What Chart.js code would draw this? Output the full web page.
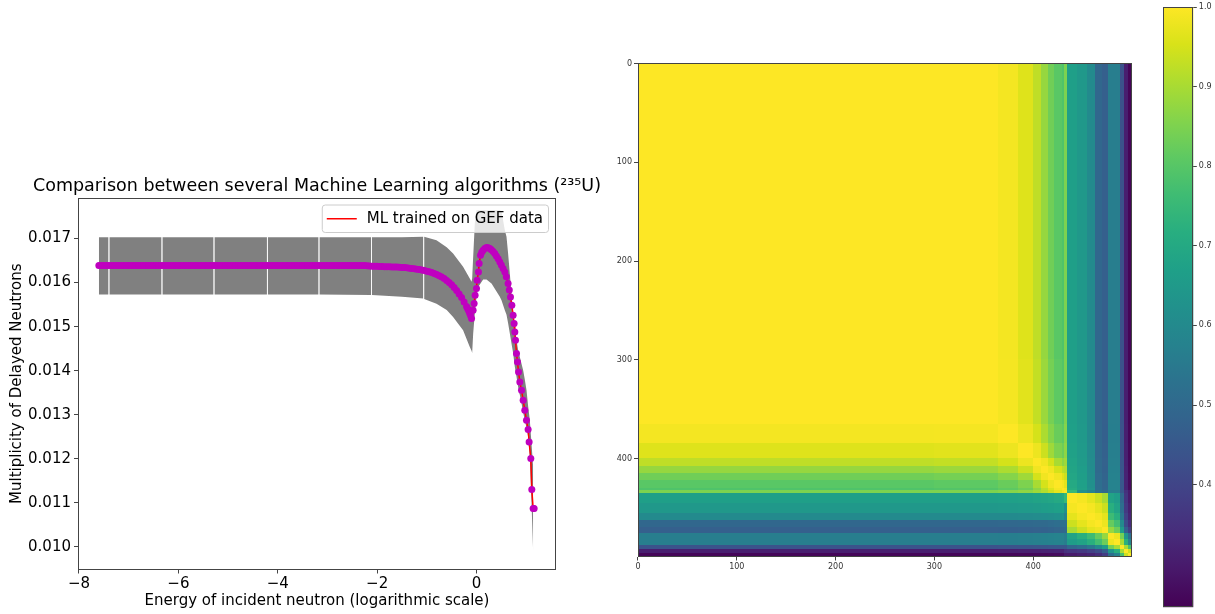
<!DOCTYPE html>
<html>
<head>
<meta charset="utf-8">
<script src="https://cdn.jsdelivr.net/npm/chart.js@4.4.1/dist/chart.umd.min.js"></script>
<style>
  html, body { margin: 0; padding: 0; background: #fff; }
  body { width: 1215px; height: 614px; position: relative; overflow: hidden; }
  canvas { position: absolute; }
</style>
</head>
<body>
<canvas id="heat" width="545" height="545" style="left:600px;top:40px;width:545px;height:545px"></canvas>
<canvas id="cbar" width="65" height="614" style="left:1150px;top:0;width:65px;height:614px"></canvas>
<canvas id="curve" width="634" height="454" style="left:0;top:160px;width:634px;height:454px"></canvas>
<script>
// ---- left panel: delayed neutron multiplicity vs log energy ----
const curveX = [
  -7.60, -7.55, -7.50, -7.45, -7.40, -7.35, -7.30, -7.25, -7.20, -7.15, -7.10, -7.05,
  -7.00, -6.95, -6.90, -6.85, -6.80, -6.75, -6.70, -6.65, -6.60, -6.55, -6.50, -6.45,
  -6.40, -6.35, -6.30, -6.25, -6.20, -6.15, -6.10, -6.05, -6.00, -5.95, -5.90, -5.85,
  -5.80, -5.75, -5.70, -5.65, -5.60, -5.55, -5.50, -5.45, -5.40, -5.35, -5.30, -5.25,
  -5.20, -5.15, -5.10, -5.05, -5.00, -4.95, -4.90, -4.85, -4.80, -4.75, -4.70, -4.65,
  -4.60, -4.55, -4.50, -4.45, -4.40, -4.35, -4.30, -4.25, -4.20, -4.15, -4.10, -4.05,
  -4.00, -3.95, -3.90, -3.85, -3.80, -3.75, -3.70, -3.65, -3.60, -3.55, -3.50, -3.45,
  -3.40, -3.35, -3.30, -3.25, -3.20, -3.15, -3.10, -3.05, -3.00, -2.95, -2.90, -2.85,
  -2.80, -2.75, -2.70, -2.65, -2.60, -2.55, -2.50, -2.45, -2.40, -2.35, -2.30, -2.25,
  -2.20, -2.15, -2.10, -2.05, -2.00, -1.95, -1.90, -1.85, -1.80, -1.75, -1.70, -1.65,
  -1.60, -1.55, -1.50, -1.45, -1.40, -1.35, -1.30, -1.25, -1.20, -1.15, -1.10, -1.05,
  -1.00, -0.95, -0.90, -0.85, -0.80, -0.75, -0.70, -0.65, -0.60, -0.55, -0.50, -0.45,
  -0.40, -0.35, -0.30, -0.25, -0.20, -0.18, -0.16, -0.14, -0.12, -0.10,
  -0.068, -0.048, -0.028, 0.0, 0.012, 0.040, 0.053, 0.081, 0.105, 0.133, 0.165, 0.201, 0.235,
  0.268, 0.300, 0.335, 0.368, 0.400, 0.435, 0.469, 0.500, 0.535, 0.570, 0.600, 0.636, 0.660,
  0.684, 0.711, 0.737, 0.757, 0.771, 0.785, 0.805, 0.825, 0.846, 0.872, 0.906, 0.939, 0.972,
  1.006, 1.039, 1.059, 1.093, 1.113, 1.140, 1.160,
];
const curveY = [
  0.01639, 0.01639, 0.01639, 0.01639, 0.01639, 0.01639, 0.01639, 0.01639, 0.01639, 0.01639, 0.01639, 0.01639,
  0.01639, 0.01639, 0.01639, 0.01639, 0.01639, 0.01639, 0.01639, 0.01639, 0.01639, 0.01639, 0.01639, 0.01639,
  0.01639, 0.01639, 0.01639, 0.01639, 0.01639, 0.01639, 0.01639, 0.01639, 0.01639, 0.01639, 0.01639, 0.01639,
  0.01639, 0.01639, 0.01639, 0.01639, 0.01639, 0.01639, 0.01639, 0.01639, 0.01639, 0.01639, 0.01639, 0.01639,
  0.01639, 0.01639, 0.01639, 0.01639, 0.01639, 0.01639, 0.01639, 0.01639, 0.01639, 0.01639, 0.01639, 0.01639,
  0.01639, 0.01639, 0.01639, 0.01639, 0.01639, 0.01639, 0.01639, 0.01639, 0.01639, 0.01639, 0.01639, 0.01639,
  0.01639, 0.01639, 0.01639, 0.01639, 0.01639, 0.01639, 0.01639, 0.01639, 0.01639, 0.01639, 0.01639, 0.01639,
  0.01639, 0.01639, 0.01639, 0.01639, 0.01639, 0.01639, 0.01639, 0.01639, 0.01639, 0.01639, 0.01639, 0.01639,
  0.01639, 0.01639, 0.01639, 0.01639, 0.01639, 0.01639, 0.01639, 0.01639, 0.01639, 0.01639, 0.01639, 0.01639,
  0.01638, 0.016376, 0.016372, 0.01637, 0.016368, 0.016366, 0.016364, 0.016362, 0.01636, 0.016358, 0.016356, 0.016354,
  0.016352, 0.016349, 0.016345, 0.01634, 0.016335, 0.016328, 0.01632, 0.016313, 0.016305, 0.016295, 0.016285, 0.016273,
  0.01626, 0.016245, 0.01623, 0.016208, 0.016185, 0.016155, 0.016125, 0.01609, 0.01605, 0.016, 0.01595, 0.01589,
  0.01582, 0.01574, 0.01566, 0.01556, 0.015455, 0.01541, 0.015365, 0.01531, 0.01525, 0.015184,
  0.015373, 0.015524, 0.015713, 0.015865, 0.016054, 0.016242, 0.016433, 0.016621, 0.01669, 0.016734, 0.016775, 0.016795, 0.01679,
  0.016773, 0.016745, 0.016705, 0.016659, 0.016605, 0.01654, 0.01647, 0.0164, 0.01632, 0.016242, 0.01613, 0.015979, 0.01583,
  0.015675, 0.015486, 0.015259, 0.015071, 0.01488, 0.014692, 0.01439, 0.014199, 0.013972, 0.013745, 0.013557, 0.01333, 0.013103,
  0.012876, 0.012665, 0.012384, 0.012007, 0.011303, 0.010872, 0.010872,
];

// grey error-bar envelope; null marks the thin light seams in the band
const bandX = [
  -7.6, -7.405, -7.397, -7.389, -6.338, -6.33, -6.322, -5.291, -5.283, -5.275, -4.217, -4.209, -4.201,
  -3.178, -3.17, -3.162, -2.123, -2.115, -2.107, -1.5, -1.07, -1.062, -1.054, -0.805, -0.6, -0.471, -0.27,
  -0.135, -0.10, -0.087, -0.067, -0.034, 0.0, 0.034, 0.134, 0.201, 0.302, 0.469, 0.503, 0.570, 0.604,
  0.637, 0.670, 0.704, 0.737, 0.771, 0.805, 0.838, 0.872, 0.906, 0.939, 0.972, 1.006, 1.039, 1.073,
  1.107, 1.140,
];
const bandHigh = [
  0.01703, 0.01703, null, 0.01703, 0.01703, null, 0.01703, 0.01703, null, 0.01703, 0.01703, null, 0.01703,
  0.01703, null, 0.01703, 0.01703, null, 0.01703, 0.01703, 0.01704, null, 0.01704, 0.01696, 0.0168, 0.01666, 0.01636,
  0.01609, 0.01602, 0.0161, 0.01658, 0.01734, 0.01764, 0.01764, 0.01764, 0.01764, 0.01764, 0.01764, 0.01762, 0.01719, 0.01704,
  0.01665, 0.01621, 0.01575, 0.0153, 0.015, 0.01469, 0.01447, 0.01431, 0.01416, 0.01401, 0.0138, 0.01356, 0.0132, 0.01288,
  0.01235, 0.01182,
];
const bandLow = [
  0.01573, 0.01573, null, 0.01573, 0.01573, null, 0.01573, 0.01573, null, 0.01573, 0.01573, null, 0.01573,
  0.01573, null, 0.01573, 0.01572, null, 0.01572, 0.01568, 0.01564, null, 0.01563, 0.01552, 0.01538, 0.01522, 0.01492,
  0.01454, 0.01445, 0.0144, 0.01484, 0.0153, 0.01567, 0.0159, 0.01607, 0.01607, 0.01598, 0.01568, 0.0156, 0.01537, 0.01527,
  0.01507, 0.01485, 0.01462, 0.0144, 0.01409, 0.01386, 0.01363, 0.01345, 0.01326, 0.01305, 0.01288, 0.0127, 0.0125, 0.01204,
  0.011, 0.00989,
];

const curveTicksX = [-8, -6, -4, -2, 0];
const curveTicksY = [0.010, 0.011, 0.012, 0.013, 0.014, 0.015, 0.016, 0.017];

// ---- right panel: correlation matrix, read as blocks of point indices ----
const cellEdges = [0, 300, 365, 385, 400, 408, 415, 422, 430, 432, 435, 445, 455, 463, 470, 476, 482, 488, 492, 496, 500];
// upper triangle, row r starts at column r
const cellUpper = [
  [1.0, 1.0, 0.989, 0.962, 0.925, 0.879, 0.834, 0.804, 0.789, 0.849, 0.668, 0.646, 0.600, 0.495, 0.472, 0.563, 0.563, 0.435, 0.306, 0.254],
  [1.0, 0.99, 0.965, 0.93, 0.885, 0.84, 0.81, 0.795, 0.85, 0.668, 0.646, 0.600, 0.495, 0.472, 0.563, 0.563, 0.435, 0.306, 0.254],
  [1.0, 0.98, 0.95, 0.905, 0.86, 0.825, 0.81, 0.86, 0.67, 0.648, 0.60, 0.497, 0.474, 0.565, 0.565, 0.437, 0.308, 0.256],
  [1.0, 0.98, 0.94, 0.89, 0.85, 0.83, 0.87, 0.675, 0.65, 0.605, 0.50, 0.476, 0.567, 0.567, 0.44, 0.31, 0.258],
  [1.0, 0.985, 0.95, 0.90, 0.87, 0.89, 0.68, 0.655, 0.608, 0.503, 0.478, 0.57, 0.57, 0.442, 0.312, 0.26],
  [1.0, 0.985, 0.95, 0.92, 0.91, 0.685, 0.66, 0.61, 0.505, 0.48, 0.572, 0.572, 0.445, 0.315, 0.262],
  [1.0, 0.985, 0.96, 0.94, 0.69, 0.665, 0.615, 0.51, 0.485, 0.575, 0.575, 0.448, 0.318, 0.265],
  [1.0, 0.99, 0.97, 0.70, 0.67, 0.62, 0.515, 0.49, 0.578, 0.578, 0.45, 0.32, 0.268],
  [1.0, 0.99, 0.71, 0.675, 0.625, 0.52, 0.495, 0.58, 0.58, 0.452, 0.322, 0.27],
  [1.0, 0.75, 0.62, 0.58, 0.52, 0.50, 0.56, 0.56, 0.45, 0.35, 0.30],
  [1.0, 0.99, 0.97, 0.94, 0.90, 0.68, 0.66, 0.50, 0.36, 0.30],
  [1.0, 0.99, 0.97, 0.94, 0.72, 0.68, 0.52, 0.37, 0.31],
  [1.0, 0.99, 0.97, 0.76, 0.72, 0.55, 0.39, 0.32],
  [1.0, 0.98, 0.82, 0.77, 0.60, 0.42, 0.34],
  [1.0, 0.88, 0.83, 0.66, 0.47, 0.38],
  [1.0, 0.98, 0.84, 0.64, 0.52],
  [1.0, 0.90, 0.72, 0.58],
  [1.0, 0.90, 0.78],
  [1.0, 0.94],
  [1.0],
];
const heatTicks = [0, 100, 200, 300, 400];
const colorTicks = [0.4, 0.5, 0.6, 0.7, 0.8, 0.9, 1.0];
const colorMin = 0.246;
const colorMax = 1.0;

const VIRIDIS = [
  '#440154', '#48186a', '#472d7b', '#424086', '#3b528b', '#33638d', '#2c728e', '#26828e', '#21918c',
  '#1fa088', '#28ae80', '#3fbc73', '#5ec962', '#84d44b', '#addc30', '#d8e219', '#fde725',
];

const FONT = '"DejaVu Sans", sans-serif';
Chart.defaults.font.family = FONT;
Chart.defaults.color = '#000';

const hexRgb = (hex) => [1, 3, 5].map((i) => parseInt(hex.slice(i, i + 2), 16));

const viridis = (value) => {
    let t = (value - colorMin) / (colorMax - colorMin);
    t = Math.min(1, Math.max(0, t)) * (VIRIDIS.length - 1);
    const i = Math.min(VIRIDIS.length - 2, Math.floor(t));
    const f = t - i;
    const a = hexRgb(VIRIDIS[i]);
    const b = hexRgb(VIRIDIS[i + 1]);
    const c = a.map((v, k) => Math.round(v + (b[k] - v) * f));
    return `rgb(${c[0]},${c[1]},${c[2]})`;
};

const fixedTicks = (values) => (axis) => {
    axis.ticks = values.map((value) => ({ value }));
};

const framePlugin = {
    id: 'frame',
    afterDraw(chart) {
        const { ctx, chartArea: a } = chart;
        ctx.save();
        ctx.strokeStyle = '#444';
        ctx.lineWidth = 1;
        ctx.strokeRect(Math.round(a.left) + 0.5, Math.round(a.top) + 0.5,
            Math.round(a.right - a.left) - 1, Math.round(a.bottom - a.top) - 1);
        ctx.restore();
    },
};

const legendBoxPlugin = {
    id: 'legendBox',
    afterDatasetsDraw(chart) {
        const { ctx, chartArea } = chart;
        const ds = chart.data.datasets[1];
        ctx.save();
        ctx.font = `15px ${FONT}`;
        const textW = ctx.measureText(ds.label).width;
        const right = chartArea.right - 8;
        const top = chartArea.top + 6.5;
        const h = 27.5;
        const w = 5 + 30 + 10 + textW + 5;
        const left = right - w;
        ctx.beginPath();
        ctx.roundRect(left + 0.5, top + 0.5, w, h, 3);
        ctx.fillStyle = 'rgba(255,255,255,0.8)';
        ctx.fill();
        ctx.strokeStyle = '#cccccc';
        ctx.lineWidth = 1;
        ctx.stroke();
        const cy = top + h / 2 + 0.5;
        ctx.beginPath();
        ctx.moveTo(left + 5, cy);
        ctx.lineTo(left + 35, cy);
        ctx.strokeStyle = ds.borderColor;
        ctx.lineWidth = 1.5;
        ctx.stroke();
        ctx.fillStyle = '#000';
        ctx.textBaseline = 'middle';
        ctx.fillText(ds.label, left + 45, cy);
        ctx.restore();
    },
};

const curvePoints = curveX.map((x, i) => ({ x, y: curveY[i] }));
const highPoints = bandX.map((x, i) => ({ x, y: bandHigh[i] }));
const lowPoints = bandX.map((x, i) => ({ x, y: bandLow[i] }));

new Chart(document.getElementById('curve'), {
    type: 'scatter',
    data: {
        datasets: [
            {
                label: 'GEF',
                data: curvePoints,
                showLine: false,
                pointRadius: 3.5,
                pointHoverRadius: 3.5,
                pointBackgroundColor: '#bf00bf',
                pointBorderWidth: 0,
            },
            {
                label: 'ML trained on GEF data',
                data: curvePoints,
                showLine: true,
                borderColor: '#ff0000',
                borderWidth: 1.5,
                pointRadius: 0,
                fill: false,
            },
            {
                label: 'upper',
                data: highPoints,
                showLine: true,
                spanGaps: false,
                borderWidth: 0,
                borderColor: 'rgba(0,0,0,0)',
                pointRadius: 0,
                fill: false,
            },
            {
                label: 'lower',
                data: lowPoints,
                showLine: true,
                spanGaps: false,
                borderWidth: 0,
                borderColor: 'rgba(0,0,0,0)',
                pointRadius: 0,
                fill: '-1',
                backgroundColor: '#808080',
            },
        ],
    },
    options: {
        responsive: false,
        animation: false,
        events: [],
        layout: { padding: 0 },
        plugins: {
            legend: { display: false },
            tooltip: { enabled: false },
            title: {
                display: true,
                text: 'Comparison between several Machine Learning algorithms (\u00b2\u00b3\u2075U)',
                font: { size: 17.5, weight: 'normal' },
                color: '#000',
                padding: { top: 15.5, bottom: 1.5 },
            },
        },
        scales: {
            x: {
                type: 'linear',
                min: -8.02,
                max: 1.6,
                afterBuildTicks: fixedTicks(curveTicksX),
                afterFit: (scale) => { scale.height = 44.5; },
                border: { display: false },
                grid: { drawOnChartArea: false, drawTicks: true, tickLength: 4, color: '#444' },
                ticks: {
                    font: { size: 15 },
                    color: '#000',
                    padding: 2,
                    maxRotation: 0,
                    autoSkip: false,
                    callback: (value) => String(value).replace('-', '\u2212'),
                },
                title: {
                    display: true,
                    text: 'Energy of incident neutron (logarithmic scale)',
                    font: { size: 15 },
                    color: '#000',
                    padding: { top: 0, bottom: 4 },
                },
            },
            y: {
                type: 'linear',
                min: 0.009487,
                max: 0.01792,
                afterBuildTicks: fixedTicks(curveTicksY),
                afterFit: (scale) => { scale.width = 78; },
                border: { display: false },
                grid: { drawOnChartArea: false, drawTicks: true, tickLength: 4, color: '#444' },
                ticks: {
                    font: { size: 15 },
                    color: '#000',
                    padding: 3,
                    autoSkip: false,
                    callback: (value) => Number(value).toFixed(3),
                },
                title: {
                    display: true,
                    text: 'Multiplicity of Delayed Neutrons',
                    font: { size: 15 },
                    color: '#000',
                    padding: { top: 8, bottom: 0 },
                },
            },
            // empty right-hand spacer so the title centres over the axes
            spacer: {
                type: 'linear',
                position: 'right',
                min: 0,
                max: 1,
                afterFit: (scale) => { scale.width = 78; },
                border: { display: false },
                grid: { display: false },
                ticks: { display: false },
            },
        },
    },
    plugins: [framePlugin, legendBoxPlugin],
});

// ---- heatmap ----
const cellCount = cellEdges.length - 1;
const cellMatrix = Array.from({ length: cellCount }, (_, r) =>
    Array.from({ length: cellCount }, (_, c) => (r <= c ? cellUpper[r][c - r] : cellUpper[c][r - c])));

const heatmapPlugin = {
    id: 'heatmap',
    beforeDatasetsDraw(chart) {
        const { ctx, scales: { x, y } } = chart;
        ctx.save();
        for (let r = 0; r < cellCount; r++) {
            const y0 = Math.round(y.getPixelForValue(cellEdges[r] - 0.5));
            const y1 = Math.round(y.getPixelForValue(cellEdges[r + 1] - 0.5));
            for (let c = 0; c < cellCount; c++) {
                const x0 = Math.round(x.getPixelForValue(cellEdges[c] - 0.5));
                const x1 = Math.round(x.getPixelForValue(cellEdges[c + 1] - 0.5));
                ctx.fillStyle = viridis(cellMatrix[r][c]);
                ctx.fillRect(x0, Math.min(y0, y1), x1 - x0, Math.abs(y1 - y0));
            }
        }
        ctx.restore();
    },
};

const smallAxis = (ticks, extra) => ({
    type: 'linear',
    afterBuildTicks: fixedTicks(ticks),
    border: { display: false },
    grid: { drawOnChartArea: false, drawTicks: true, tickLength: 3.5, color: '#444' },
    ticks: { font: { size: 8 }, color: '#333', padding: 2, maxRotation: 0, autoSkip: false },
    ...extra,
});

new Chart(document.getElementById('heat'), {
    type: 'scatter',
    data: { datasets: [{ data: [] }] },
    options: {
        responsive: false,
        animation: false,
        events: [],
        layout: { padding: { left: 0, right: 13.5, top: 23, bottom: 0 } },
        plugins: { legend: { display: false }, tooltip: { enabled: false } },
        scales: {
            x: smallAxis(heatTicks, {
                min: -0.5,
                max: 499.5,
                afterFit: (scale) => { scale.height = 28; },
            }),
            y: smallAxis(heatTicks, {
                min: -0.5,
                max: 499.5,
                reverse: true,
                afterFit: (scale) => { scale.width = 37.5; },
            }),
        },
    },
    plugins: [heatmapPlugin, framePlugin],
});

// ---- colorbar ----
const colorbarPlugin = {
    id: 'colorbar',
    beforeDatasetsDraw(chart) {
        const { ctx, chartArea: a, scales: { y } } = chart;
        const g = ctx.createLinearGradient(0, y.getPixelForValue(colorMin), 0, y.getPixelForValue(colorMax));
        VIRIDIS.forEach((hex, i) => g.addColorStop(i / (VIRIDIS.length - 1), hex));
        ctx.save();
        ctx.fillStyle = g;
        ctx.fillRect(a.left, a.top, a.right - a.left, a.bottom - a.top);
        ctx.restore();
    },
};

new Chart(document.getElementById('cbar'), {
    type: 'scatter',
    data: { datasets: [{ data: [] }] },
    options: {
        responsive: false,
        animation: false,
        events: [],
        layout: { padding: { left: 13, right: 0, top: 7, bottom: 4 } },
        plugins: { legend: { display: false }, tooltip: { enabled: false } },
        scales: {
            x: { display: false, min: 0, max: 1 },
            y: smallAxis(colorTicks, {
                position: 'right',
                min: colorMin,
                max: colorMax,
                afterFit: (scale) => { scale.width = 21.7; },
                ticks: {
                    font: { size: 8 },
                    color: '#333',
                    padding: 2,
                    autoSkip: false,
                    callback: (value) => Number(value).toFixed(1),
                },
            }),
        },
    },
    plugins: [colorbarPlugin, framePlugin],
});
</script>
</body>
</html>
